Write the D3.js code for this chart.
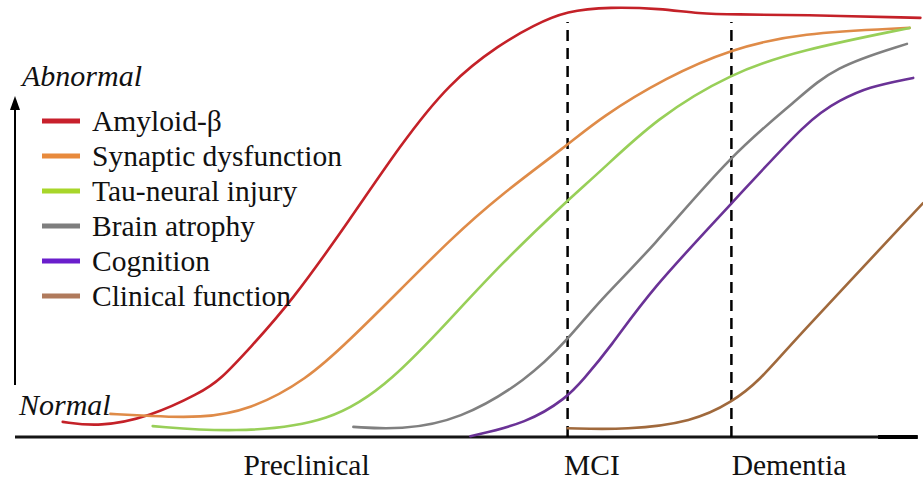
<!DOCTYPE html>
<html>
<head>
<meta charset="utf-8">
<script src="https://cdn.jsdelivr.net/npm/d3@7"></script>
<style>
  body { margin: 0; background: #fff; }
  text { font-family: "Liberation Serif", "Times New Roman", serif; fill: #111; }
</style>
</head>
<body>
<svg id="chart" width="923" height="482"></svg>
<script>
// progression (0-100) vs abnormality (0-100)
const amyloid = [[5.3,3.6],[9.4,2.4],[15,4.8],[20.6,10.5],[22.8,13.6],[26.1,21.2],[30.6,31.9],[37.2,51.7],[42.8,69.5],[48.3,84.5],[53.9,93.5],[57.6,98],[61.3,101.5],[66.1,102.4],[71.7,102],[76,100.8],[80,100.6],[87.2,100.5],[100.6,99.8]];
const synaptic = [[10.6,5.5],[15,5],[20.6,4.5],[26.1,6.4],[32.4,13.6],[37.2,23.1],[42.8,35],[48.3,46.9],[53.9,57.6],[61.4,69.5],[65,76],[72.4,85.7],[79.6,92.4],[87.2,96.2],[99.4,97.4]];
const tau = [[15.3,2.6],[24.2,1],[35.3,3.3],[42,13.6],[48.3,27.9],[53.9,41],[61.4,56.4],[65,63.1],[71.3,76],[79.6,86.7],[87.2,92.1],[99.4,97.4]];
const atrophy = [[37.6,2.4],[42.8,1.7],[49.4,4],[56.9,13.6],[61.4,23.1],[65,32.6],[70.6,44.5],[79.7,67.6],[86.9,80.2],[90.9,88.1],[99.1,93.6]];
const cognition = [[50.6,0.2],[56.9,3.3],[61.3,9.3],[63.1,13.6],[66.1,21.2],[70.6,35],[79.7,55.7],[88.3,76],[91.7,80.2],[94.7,83.3],[99.8,85.5]];
const clinical = [[61.4,2.1],[68,1.7],[75.3,3.6],[79.7,8.3],[82.8,13.6],[85.8,21.2],[100.9,55.7]];

const seriesNames = ["Amyloid-β", "Synaptic dysfunction", "Tau-neural injury", "Brain atrophy", "Cognition", "Clinical function"];
const seriesData = [amyloid, synaptic, tau, atrophy, cognition, clinical];
const lineColors = ["#c42128", "#df8b48", "#98cf58", "#808080", "#6a3296", "#a0693c"];
const keyColors = ["#c8202c", "#e88a3c", "#a8d62a", "#7e7e7e", "#6a1ecc", "#b07a5c"];

const stages = ["Preclinical", "MCI", "Dementia"];
const stageX = [32.4, 64.1, 86];
const stageLines = [61.4, 79.6];

const svg = d3.select("#chart");
const x = d3.scaleLinear().domain([0, 100]).range([15, 915]);
const y = d3.scaleLinear().domain([0, 100]).range([437, 17]);

// baseline
svg.append("line")
    .attr("x1", x(0)).attr("x2", x(100.3))
    .attr("y1", y(0)).attr("y2", y(0))
    .attr("stroke", "#151515").attr("stroke-width", 3);
svg.append("line")
    .attr("x1", x(95.9)).attr("x2", x(100.3))
    .attr("y1", y(0)).attr("y2", y(0))
    .attr("stroke", "#000").attr("stroke-width", 4);

// stage dividers
svg.selectAll(".stage-line")
    .data(stageLines)
    .enter()
    .append("line")
    .attr("x1", d => x(d)).attr("x2", d => x(d))
    .attr("y1", y(0)).attr("y2", y(98.8))
    .attr("stroke", "#000")
    .attr("stroke-width", 2.5)
    .attr("stroke-dasharray", "11,7");

// curves
const line = d3.line()
    .x(d => x(d[0]))
    .y(d => y(d[1]))
    .curve(d3.curveBasis);

svg.selectAll(".curve")
    .data(seriesData)
    .enter()
    .append("path")
    .attr("d", line)
    .attr("fill", "none")
    .attr("stroke", (d, i) => lineColors[i])
    .attr("stroke-width", 2.6)
    .attr("stroke-linecap", "round");

// y arrow
svg.append("line")
    .attr("x1", 15).attr("x2", 15)
    .attr("y1", 385).attr("y2", 106)
    .attr("stroke", "#000").attr("stroke-width", 2);
svg.append("path")
    .attr("d", "M10,110 L15,96 L20,110 Z")
    .attr("fill", "#000");

svg.append("text").attr("x", 22).attr("y", 86)
    .attr("font-size", 30).attr("font-style", "italic").text("Abnormal");
svg.append("text").attr("x", 19).attr("y", 415)
    .attr("font-size", 30).attr("font-style", "italic").text("Normal");

// legend
const legend = svg.selectAll(".key")
    .data(seriesNames)
    .enter()
    .append("g")
    .attr("transform", (d, i) => `translate(42,${121 + i * 35})`);
legend.append("line")
    .attr("x1", 0).attr("x2", 38)
    .attr("stroke", (d, i) => keyColors[i])
    .attr("stroke-width", 5);
legend.append("text")
    .attr("x", 50).attr("y", 10)
    .attr("font-size", 29.5)
    .text(d => d);

// stage labels
svg.selectAll(".stage")
    .data(stages)
    .enter()
    .append("text")
    .attr("x", (d, i) => x(stageX[i]))
    .attr("y", 475)
    .attr("text-anchor", "middle")
    .attr("font-size", 29.5)
    .text(d => d);
</script>
</body>
</html>
